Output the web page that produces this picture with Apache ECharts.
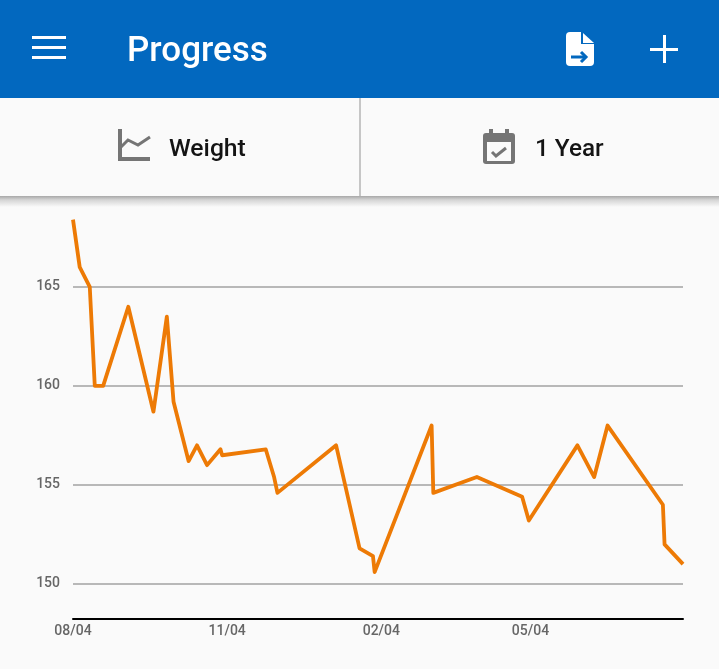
<!DOCTYPE html>
<html>
<head>
<meta charset="utf-8">
<style>html,body{margin:0;padding:0;background:#fafafa}#c{width:719px;height:669px}</style>
<script src="https://cdn.jsdelivr.net/npm/echarts@6/dist/echarts.min.js"></script>
</head>
<body>
<div id="c"></div>
<script>
const dayOffsets = [0,4,10,13,18,33,48,56,60,69,74,80,88,89,115,120,122,157,171,179,180,214,215,241,268,272,301,311,319,352,353,364];
const weights = [168.4,166,165,160,160,164,158.7,163.5,159.2,156.2,157,156,156.8,156.5,156.8,155.4,154.6,157,151.8,151.4,150.6,158,154.6,155.4,154.4,153.2,157,155.4,158,154,152,151];
const xTickDays = [0,92,184,273];
const xTickLabels = ['08/04','11/04','02/04','05/04'];
const yTicks = [150,155,160,165];
const titleText = 'Progress';
const metricText = 'Weight';
const rangeText = '1 Year';

const blue = '#0268bf', grey = '#757575', font = 'Roboto';
const chart = echarts.init(document.getElementById('c'));
const stroke = (c, w) => ({stroke: c, lineWidth: w, fill: null});
const rect = (x, y, width, height, fill, r) => ({type: 'rect', shape: {x, y, width, height, r: r || 0}, style: {fill}, silent: true});
const poly = (points, c, w) => ({type: 'polyline', shape: {points}, style: stroke(c, w), silent: true});
const polygon = (points, fill) => ({type: 'polygon', shape: {points}, style: {fill}, silent: true});
const text = (x, y, t, size, weight, fill) => ({type: 'text', x, y, style: {text: t, font: `${weight} ${size}px ${font}`, fill, verticalAlign: 'middle'}, silent: true});

chart.setOption({
  animation: false,
  backgroundColor: '#fafafa',
  grid: {left: 73, right: 36, top: 221, bottom: 50},
  xAxis: {
    type: 'value', min: 0, max: 364,
    axisLine: {show: true, lineStyle: {color: '#000', width: 2}},
    axisTick: {show: false, customValues: xTickDays},
    splitLine: {show: false},
    axisLabel: {
      customValues: xTickDays,
      formatter: v => xTickLabels[xTickDays.indexOf(v)] || '',
      color: '#666', fontFamily: font, fontSize: 14, fontWeight: 500, margin: 5,
      hideOverlap: false, showMinLabel: true
    }
  },
  yAxis: {
    type: 'value', min: 148.23, max: 168.33,
    axisLine: {show: false},
    axisTick: {show: false, customValues: yTicks},
    splitLine: {show: true, showMinLine: true, showMaxLine: true, lineStyle: {color: '#b8b8b8', width: 2}},
    axisLabel: {customValues: yTicks, color: '#666', fontFamily: font, fontSize: 14, fontWeight: 500, margin: 13, padding: [5, 0, 0, 0]}
  },
  series: [{
    type: 'line', symbol: 'none', clip: true,
    data: dayOffsets.map((d, i) => [d, weights[i]]),
    lineStyle: {color: '#ed7a05', width: 3.8, join: 'round'}
  }],
  graphic: {elements: [
    rect(0, 0, 719, 98, blue),
    rect(0, 98, 719, 98, '#fafafa'),
    rect(359, 98, 2, 98, '#c6c6c6'),
    {type: 'rect', shape: {x: 0, y: 196, width: 719, height: 11}, silent: true, style: {fill: new echarts.graphic.LinearGradient(0, 0, 0, 1, [
      {offset: 0, color: '#a8a8a8'}, {offset: 0.35, color: '#d4d4d4'}, {offset: 1, color: '#fafafa'}])}},
    rect(32, 36, 34, 3, '#fff'), rect(32, 46, 34, 3, '#fff'), rect(32, 56, 34, 3, '#fff'),
    text(127, 52, titleText, 35, 500, '#fff'),
    rect(566, 32, 28, 34, '#fff', 4),
    polygon([[581, 31], [595, 31], [595, 45], [581, 45]], blue),
    polygon([[583, 33], [583, 43], [594, 43]], '#fff'),
    rect(581, 44, 13, 6, '#fff'),
    poly([[571, 57], [585, 57]], blue, 3),
    poly([[581, 52], [586, 57], [581, 62]], blue, 3),
    rect(650, 48, 28, 3, '#fff'), rect(663, 35, 3, 28, '#fff'),
    rect(118, 129, 4, 32, grey), rect(118, 157, 32, 4, grey),
    poly([[121, 147], [128, 140], [138, 145], [150, 137]], grey, 3),
    text(169, 150, metricText, 24.7, 500, '#141414'),
    rect(483, 133, 32, 31, grey, 3),
    rect(489, 129, 4, 6, grey), rect(505, 129, 4, 6, grey),
    rect(487, 142, 24, 19, '#fafafa'),
    poly([[492, 152], [496, 156], [506, 148]], grey, 3),
    text(535, 150, rangeText, 24.3, 500, '#141414')
  ]}
});
</script>
</body>
</html>
